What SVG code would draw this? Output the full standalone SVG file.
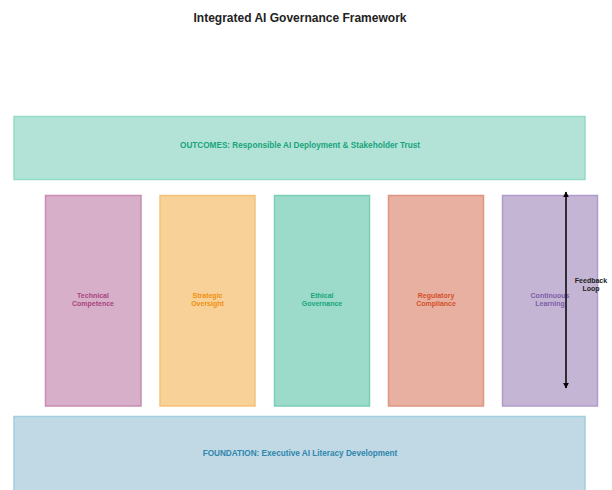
<svg xmlns="http://www.w3.org/2000/svg" width="612" height="490" viewBox="0 0 612 490">
  <defs>
    <marker id="arrowhead" viewBox="0 0 10 10" refX="9" refY="5" markerWidth="4" markerHeight="4" orient="auto-start-reverse">
      <path d="M0,0 L10,5 L0,10 z" fill="#000"/>
    </marker>
    <style>
      text { font-family: "Liberation Sans", Arial, sans-serif; font-weight: bold; text-anchor: middle; }
      .title { font-size: 12px; fill: #222; }
      .band { stroke-width: 1.5; }
      .band-label { font-size: 8.2px; }
      .pillar { stroke-width: 1.5; }
      .pillar-label { font-size: 7px; }
      .note { font-size: 7px; fill: #222; }
    </style>
  </defs>

  <rect width="612" height="490" fill="#ffffff"/>

  <text class="title" x="300" y="22">Integrated AI Governance Framework</text>

  <g id="outcomes">
    <rect class="band" x="14" y="116.5" width="571" height="63" fill="#b3e3d7" stroke="#92dcc5"/>
    <text class="band-label" x="300" y="148" fill="#17a57c">OUTCOMES: Responsible AI Deployment &amp; Stakeholder Trust</text>
  </g>

  <g id="technical-competence">
    <rect class="pillar" x="45.5" y="195.5" width="95.5" height="210.5" fill="#d8afc8" stroke="#c98cb2"/>
    <text class="pillar-label" x="93" y="298" fill="#a8457f">Technical</text>
    <text class="pillar-label" x="93" y="306" fill="#a8457f">Competence</text>
  </g>

  <g id="strategic-oversight">
    <rect class="pillar" x="160" y="195.5" width="95" height="210.5" fill="#f7d198" stroke="#f6c27a"/>
    <text class="pillar-label" x="207.5" y="298" fill="#f0900f">Strategic</text>
    <text class="pillar-label" x="207.5" y="306" fill="#f0900f">Oversight</text>
  </g>

  <g id="ethical-governance">
    <rect class="pillar" x="274.5" y="195.5" width="95" height="210.5" fill="#9cdbca" stroke="#79cfb7"/>
    <text class="pillar-label" x="322" y="298" fill="#17a57c">Ethical</text>
    <text class="pillar-label" x="322" y="306" fill="#17a57c">Governance</text>
  </g>

  <g id="regulatory-compliance">
    <rect class="pillar" x="388.5" y="195.5" width="95" height="210.5" fill="#e8b0a1" stroke="#de9582"/>
    <text class="pillar-label" x="436" y="298" fill="#d4502a">Regulatory</text>
    <text class="pillar-label" x="436" y="306" fill="#d4502a">Compliance</text>
  </g>

  <g id="continuous-learning">
    <rect class="pillar" x="502.5" y="195.5" width="95" height="210.5" fill="#c4b5d4" stroke="#b09ccb"/>
    <text class="pillar-label" x="550" y="298" fill="#7d5fa8">Continuous</text>
    <text class="pillar-label" x="550" y="306" fill="#7d5fa8">Learning</text>
  </g>

  <g id="foundation">
    <rect class="band" x="14" y="416.5" width="571" height="80" fill="#c0d9e4" stroke="#a3cde0"/>
    <text class="band-label" x="300" y="456" fill="#2f86ad">FOUNDATION: Executive AI Literacy Development</text>
  </g>

  <g id="connectors">
    <line x1="566" y1="388" x2="566" y2="192" stroke="#000" stroke-width="1.5" marker-start="url(#arrowhead)" marker-end="url(#arrowhead)"/>
    <text class="note" x="591" y="283">Feedback</text>
    <text class="note" x="591" y="290.5">Loop</text>
  </g>
</svg>
